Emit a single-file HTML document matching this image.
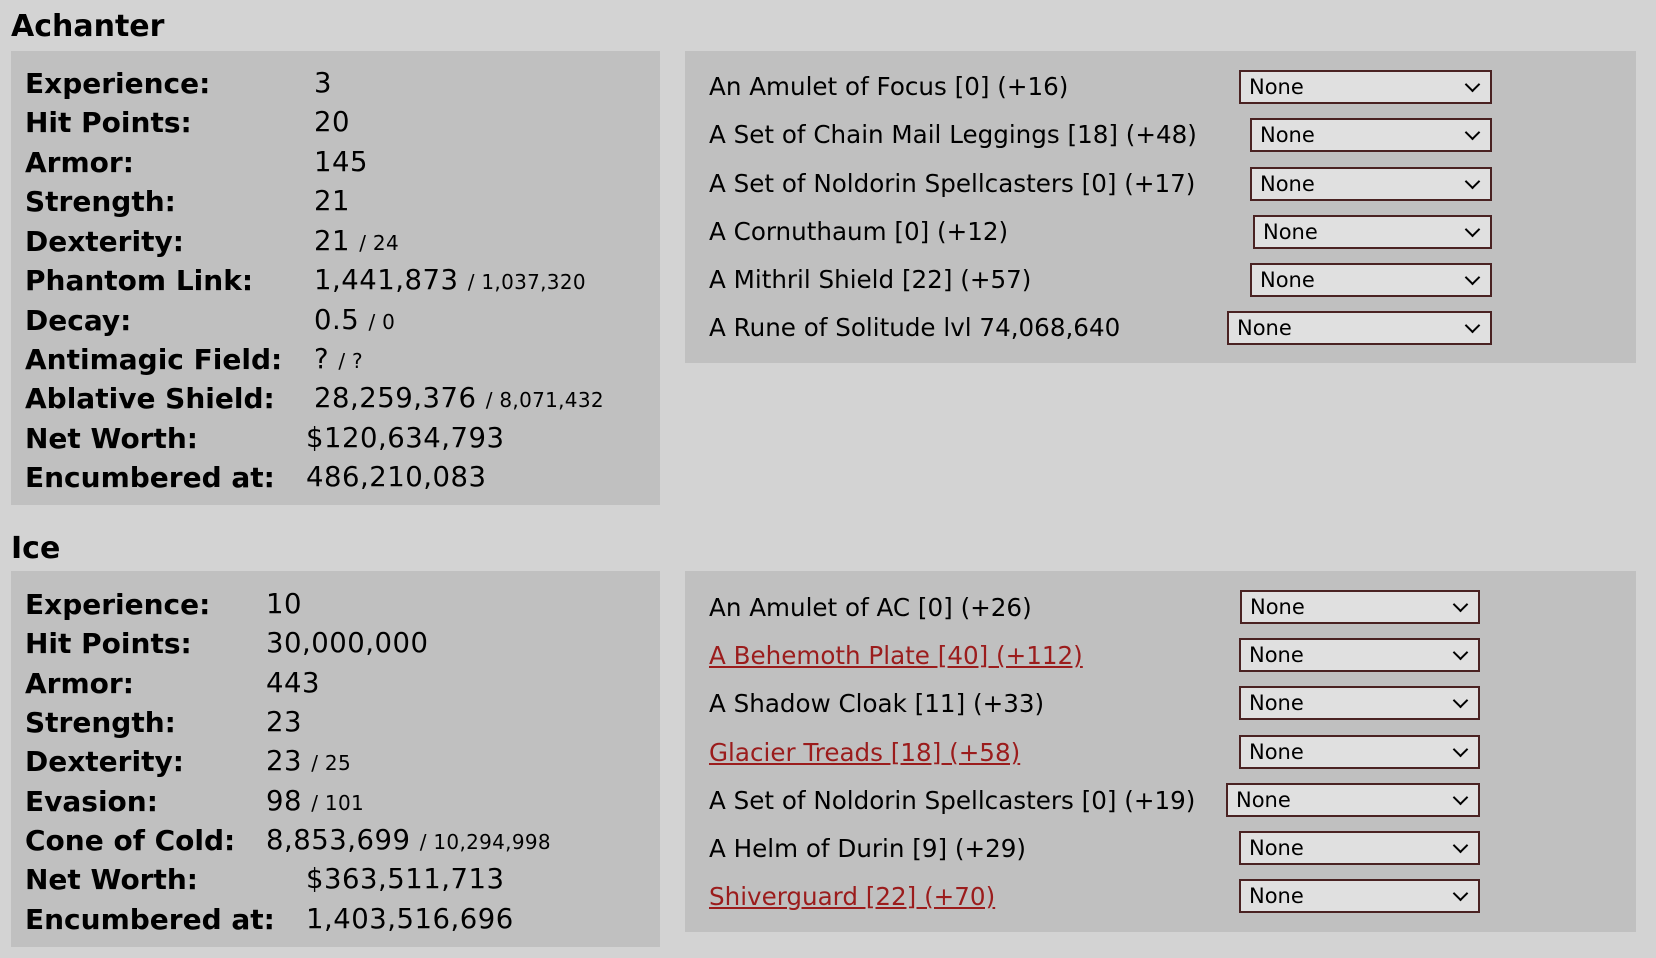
<!DOCTYPE html>
<html><head><meta charset="utf-8"><style>
body{margin:0;width:1656px;height:958px;background:#d3d3d3;font-family:"DejaVu Sans","Liberation Sans",sans-serif;color:#000;position:relative;overflow:hidden}
.t{position:absolute;left:11px;font-weight:bold;font-size:30px;line-height:36px}
.p{position:absolute;background:#c0c0c0}
.r{position:absolute;left:14px;height:39px;line-height:39px;font-size:27.5px;white-space:nowrap}
.r b{position:absolute;left:0;font-size:28px}
.r span{position:absolute;letter-spacing:0.5px}
.r small{font-size:20px;letter-spacing:0.3px}
.i{position:absolute;left:24px;height:34px;line-height:34px;font-size:24.6px;white-space:nowrap}
.i a{color:#9b1c1c;text-decoration:underline}
.s{position:absolute;height:30px;border:2px solid #4a2222;background:#e0e0e0;font-size:21px;line-height:30px;padding-left:8px;box-sizing:content-box}
.s:after{content:"";position:absolute;right:12px;top:7px;width:9px;height:9px;border-right:2px solid #000;border-bottom:2px solid #000;transform:rotate(45deg)}
</style></head><body>
<div class="t" style="top:9px">Achanter</div>
<div class="p" style="left:11px;top:51px;width:649px;height:454px">
<div class="r" style="top:13px"><b>Experience:</b><span style="left:289px">3</span></div>
<div class="r" style="top:52px"><b>Hit Points:</b><span style="left:289px">20</span></div>
<div class="r" style="top:92px"><b>Armor:</b><span style="left:289px">145</span></div>
<div class="r" style="top:131px"><b>Strength:</b><span style="left:289px">21</span></div>
<div class="r" style="top:171px"><b>Dexterity:</b><span style="left:289px">21 <small>/ 24</small></span></div>
<div class="r" style="top:210px"><b>Phantom Link:</b><span style="left:289px">1,441,873 <small>/ 1,037,320</small></span></div>
<div class="r" style="top:250px"><b>Decay:</b><span style="left:289px">0.5 <small>/ 0</small></span></div>
<div class="r" style="top:289px"><b>Antimagic Field:</b><span style="left:289px">? <small>/ ?</small></span></div>
<div class="r" style="top:328px"><b>Ablative Shield:</b><span style="left:289px">28,259,376 <small>/ 8,071,432</small></span></div>
<div class="r" style="top:368px"><b>Net Worth:</b><span style="left:281px">$120,634,793</span></div>
<div class="r" style="top:407px"><b>Encumbered at:</b><span style="left:281px">486,210,083</span></div>
</div>
<div class="p" style="left:685px;top:51px;width:951px;height:312px">
<div class="i" style="top:19px">An Amulet of Focus [0] (+16)</div><div class="s" style="left:554px;top:19px;width:241px">None</div>
<div class="i" style="top:67px">A Set of Chain Mail Leggings [18] (+48)</div><div class="s" style="left:565px;top:67px;width:230px">None</div>
<div class="i" style="top:116px">A Set of Noldorin Spellcasters [0] (+17)</div><div class="s" style="left:565px;top:116px;width:230px">None</div>
<div class="i" style="top:164px">A Cornuthaum [0] (+12)</div><div class="s" style="left:568px;top:164px;width:227px">None</div>
<div class="i" style="top:212px">A Mithril Shield [22] (+57)</div><div class="s" style="left:565px;top:212px;width:230px">None</div>
<div class="i" style="top:260px">A Rune of Solitude lvl 74,068,640</div><div class="s" style="left:542px;top:260px;width:253px">None</div>
</div>
<div class="t" style="top:531px">Ice</div>
<div class="p" style="left:11px;top:571px;width:649px;height:376px">
<div class="r" style="top:14px"><b>Experience:</b><span style="left:241px">10</span></div>
<div class="r" style="top:53px"><b>Hit Points:</b><span style="left:241px">30,000,000</span></div>
<div class="r" style="top:93px"><b>Armor:</b><span style="left:241px">443</span></div>
<div class="r" style="top:132px"><b>Strength:</b><span style="left:241px">23</span></div>
<div class="r" style="top:171px"><b>Dexterity:</b><span style="left:241px">23 <small>/ 25</small></span></div>
<div class="r" style="top:211px"><b>Evasion:</b><span style="left:241px">98 <small>/ 101</small></span></div>
<div class="r" style="top:250px"><b>Cone of Cold:</b><span style="left:241px">8,853,699 <small>/ 10,294,998</small></span></div>
<div class="r" style="top:289px"><b>Net Worth:</b><span style="left:281px">$363,511,713</span></div>
<div class="r" style="top:329px"><b>Encumbered at:</b><span style="left:281px">1,403,516,696</span></div>
</div>
<div class="p" style="left:685px;top:571px;width:951px;height:361px">
<div class="i" style="top:20px">An Amulet of AC [0] (+26)</div><div class="s" style="left:555px;top:19px;width:228px">None</div>
<div class="i" style="top:68px"><a>A Behemoth Plate [40] (+112)</a></div><div class="s" style="left:554px;top:67px;width:229px">None</div>
<div class="i" style="top:116px">A Shadow Cloak [11] (+33)</div><div class="s" style="left:554px;top:115px;width:229px">None</div>
<div class="i" style="top:165px"><a>Glacier Treads [18] (+58)</a></div><div class="s" style="left:554px;top:164px;width:229px">None</div>
<div class="i" style="top:213px">A Set of Noldorin Spellcasters [0] (+19)</div><div class="s" style="left:541px;top:212px;width:242px">None</div>
<div class="i" style="top:261px">A Helm of Durin [9] (+29)</div><div class="s" style="left:554px;top:260px;width:229px">None</div>
<div class="i" style="top:309px"><a>Shiverguard [22] (+70)</a></div><div class="s" style="left:554px;top:308px;width:229px">None</div>
</div>
</body></html>
